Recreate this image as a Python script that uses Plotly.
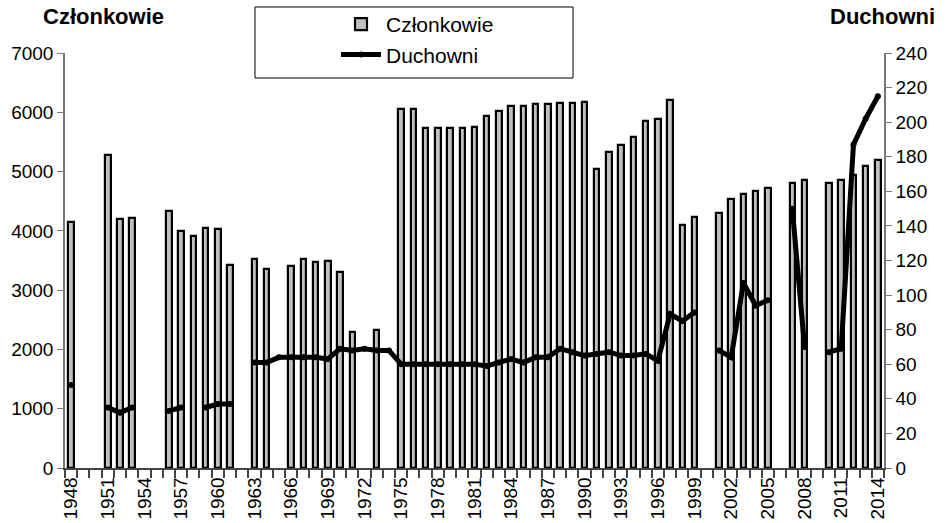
import plotly.graph_objects as go

# lata 1948-2014
lata = list(range(1948, 2015))

czlonkowie = [
    4150, None, None, 5280, 4200, 4220, None, None, 4330, 4000,   # 1948-1957
    3920, 4050, 4030, 3420, None, 3520, 3350, None, 3400, 3520,   # 1958-1967
    3470, 3500, 3310, 2290, None, 2330, None, 6060, 6060, 5730,   # 1968-1977
    5730, 5730, 5730, 5760, 5930, 6020, 6100, 6100, 6140, 6140,   # 1978-1987
    6150, 6150, 6170, 5040, 5330, 5440, 5580, 5860, 5880, 6210,   # 1988-1997
    4100, 4230, None, 4300, 4530, 4620, 4670, 4720, None, 4810,   # 1998-2007
    4860, None, 4810, 4860, 4950, 5090, 5200,                     # 2008-2014
]

duchowni = [
    48, None, None, 35, 32, 35, None, None, 33, 35,   # 1948-1957
    None, 35, 37, 37, None, 61, 61, 64, 64, 64,       # 1958-1967
    64, 63, 69, 68, 69, 68, 68, 60, 60, 60,           # 1968-1977
    60, 60, 60, 60, 59, 61, 63, 61, 64, 64,           # 1978-1987
    69, 67, 65, 66, 67, 65, 65, 66, 62, 89,           # 1988-1997
    85, 90, None, 68, 64, 107, 94, 97, None, 150,     # 1998-2007
    70, None, 67, 69, 187, 202, 215,                  # 2008-2014
]

etykiety_lat = list(range(1948, 2015, 3))

FONT = "Liberation Sans, Arial, sans-serif"

FW, FH = 952, 523

# obszar wykresu w pikselach
L, R, T, B = 65, 884, 53, 468
W, H = R - L, B - T


def px_x(x):
    return (x - L) / W


def px_y(y):
    return (B - y) / H


fig = go.Figure()

fig.add_trace(go.Bar(
    x=lata, y=czlonkowie, name="Członkowie",
    width=0.45,
    marker=dict(color="#c0c0c0", line=dict(color="black", width=2.2)),
    legendgroup="a",
))

fig.add_trace(go.Scatter(
    x=lata, y=duchowni, name="Duchowni", yaxis="y2",
    mode="lines+markers",
    line=dict(color="black", width=5),
    marker=dict(color="black", size=6),
    connectgaps=False,
    legendgroup="b",
))

# ramka legendy (szersza niz domyslna)
fig.add_shape(
    type="rect", xref="paper", yref="paper",
    x0=px_x(255), x1=px_x(573), y0=px_y(78), y1=px_y(7),
    line=dict(color="black", width=1), fillcolor="white", layer="below",
)

fig.add_annotation(text="<b>Członkowie</b>", xref="paper", yref="paper",
                   x=px_x(103), y=px_y(17), xanchor="center", yanchor="middle",
                   showarrow=False, font=dict(size=22, family=FONT, color="black"))
fig.add_annotation(text="<b>Duchowni</b>", xref="paper", yref="paper",
                   x=px_x(882), y=px_y(17), xanchor="center", yanchor="middle",
                   showarrow=False, font=dict(size=22, family=FONT, color="black"))

fig.update_layout(
    width=FW, height=FH,
    margin=dict(l=L, r=FW - R, t=T, b=FH - B, autoexpand=False),
    plot_bgcolor="white", paper_bgcolor="white",
    font=dict(family=FONT, size=19, color="black"),
    showlegend=True,
    legend=dict(
        x=px_x(336), y=px_y(4),
        xanchor="left", yanchor="top",
        bgcolor="rgba(0,0,0,0)", borderwidth=0,
        font=dict(size=21, family=FONT),
        traceorder="normal", tracegroupgap=8,
        itemwidth=40,
    ),
    bargap=0,
    xaxis=dict(
        range=[1947.5, 2014.5], automargin=False,
        tickmode="array", tickvals=etykiety_lat,
        ticktext=[str(r) for r in etykiety_lat],
        tickangle=-90, ticks="", tickfont=dict(size=19),
        showgrid=False, zeroline=False,
        showline=True, linecolor="#444", linewidth=1.5,
        minor=dict(tickmode="linear", tick0=1947.5, dtick=1,
                   ticks="outside", ticklen=8, tickcolor="#444", tickwidth=1.5,
                   showgrid=False),
    ),
    yaxis=dict(
        range=[0, 7000], dtick=1000, automargin=False,
        tickfont=dict(size=19),
        showgrid=False, zeroline=False,
        showline=True, linecolor="#777", linewidth=1.5,
        ticks="outside", ticklen=6, tickcolor="#777",
    ),
    yaxis2=dict(
        range=[0, 240], dtick=20, automargin=False,
        tickfont=dict(size=19),
        overlaying="y", side="right",
        showgrid=False, zeroline=False,
        showline=True, linecolor="#777", linewidth=1.5,
        ticks="outside", ticklen=6, tickcolor="#777",
    ),
)

# bez domyslnego marginesu strony i bez paska narzedzi
fig.write_html("out.html", config={"displayModeBar": False},
               post_script="document.body.style.margin='0px';")
